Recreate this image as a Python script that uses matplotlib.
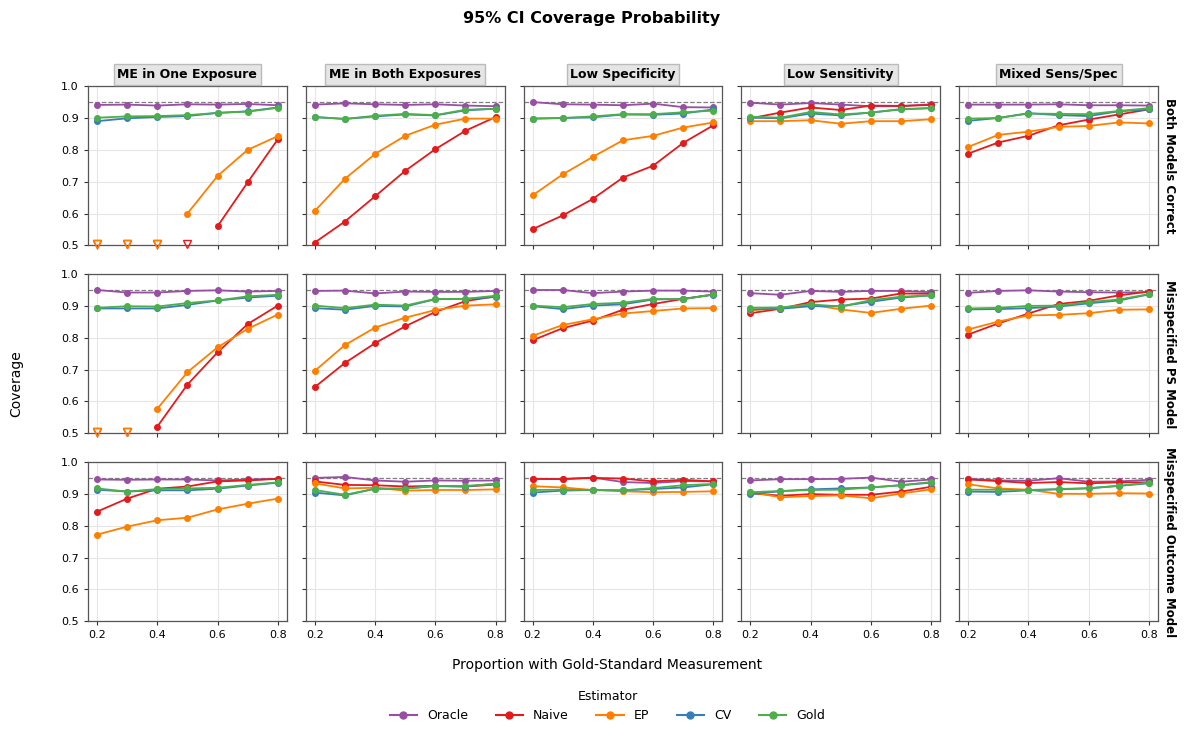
import matplotlib
matplotlib.use("Agg")
import matplotlib.pyplot as plt
from matplotlib.lines import Line2D
import numpy as np

# proportion with gold-standard measurement
props = [0.2, 0.3, 0.4, 0.5, 0.6, 0.7, 0.8]

scenarios = ["ME in One Exposure", "ME in Both Exposures", "Low Specificity",
             "Low Sensitivity", "Mixed Sens/Spec"]
models = ["Both Models Correct", "Misspecified PS Model", "Misspecified Outcome Model"]
estimators = ["Oracle", "Naive", "EP", "CV", "Gold"]
colors = {"Oracle": "#984ea3", "Naive": "#e41a1c", "EP": "#ff7f00",
          "CV": "#377eb8", "Gold": "#4daf4a"}

# None = coverage below the plotted range (drawn as open triangle at the floor)
# --- Both Models Correct ---
oracle_r1 = [
    [.941, .942, .939, .943, .942, .944, .940],
    [.942, .946, .943, .941, .943, .939, .937],
    [.950, .943, .942, .940, .945, .934, .933],
    [.948, .942, .947, .942, .937, .937, .943],
    [.942, .942, .942, .943, .940, .940, .939],
]
naive_r1 = [
    [None, None, None, None, .560, .698, .833],
    [.509, .575, .654, .734, .802, .860, .903],
    [.551, .594, .646, .713, .750, .822, .877],
    [.899, .917, .933, .925, .939, .938, .941],
    [.788, .823, .844, .877, .895, .911, .927],
]
ep_r1 = [
    [None, None, None, .600, .718, .800, .843],
    [.608, .709, .787, .844, .879, .898, .898],
    [.657, .723, .778, .830, .844, .870, .886],
    [.890, .890, .893, .882, .890, .890, .896],
    [.809, .847, .857, .872, .875, .886, .883],
]
cv_r1 = [
    [.890, .899, .903, .906, .916, .921, .933],
    [.903, .897, .905, .911, .908, .924, .929],
    [.898, .900, .902, .911, .910, .914, .927],
    [.901, .899, .914, .908, .917, .927, .931],
    [.891, .900, .915, .909, .906, .921, .927],
]
gold_r1 = [
    [.901, .905, .906, .909, .916, .920, .932],
    [.903, .897, .907, .913, .909, .926, .929],
    [.898, .900, .905, .912, .912, .918, .923],
    [.904, .901, .919, .911, .917, .928, .931],
    [.898, .900, .914, .913, .912, .922, .931],
]

# --- Misspecified PS Model ---
oracle_r2 = [
    [.950, .942, .942, .947, .949, .945, .947],
    [.947, .948, .939, .945, .944, .944, .947],
    [.950, .950, .940, .945, .948, .948, .945],
    [.940, .935, .947, .944, .947, .947, .943],
    [.941, .947, .949, .945, .943, .942, .943],
]
naive_r2 = [
    [None, None, .521, .653, .754, .843, .901],
    [.645, .721, .783, .836, .881, .915, .930],
    [.792, .830, .854, .888, .906, .922, .936],
    [.877, .891, .912, .920, .923, .939, .938],
    [.810, .845, .876, .906, .916, .933, .945],
]
ep_r2 = [
    [None, None, .577, .692, .770, .828, .873],
    [.696, .777, .832, .863, .887, .901, .905],
    [.806, .840, .858, .876, .884, .892, .893],
    [.886, .893, .904, .889, .878, .891, .901],
    [.826, .851, .870, .872, .877, .888, .889],
]
cv_r2 = [
    [.892, .892, .892, .903, .917, .926, .932],
    [.893, .888, .900, .898, .921, .922, .928],
    [.899, .890, .901, .905, .920, .922, .935],
    [.889, .891, .899, .899, .913, .926, .933],
    [.889, .890, .893, .898, .908, .917, .936],
]
gold_r2 = [
    [.894, .899, .898, .909, .917, .930, .935],
    [.901, .893, .904, .901, .922, .922, .932],
    [.901, .896, .906, .910, .922, .921, .936],
    [.894, .895, .905, .898, .918, .929, .933],
    [.892, .894, .900, .901, .912, .920, .937],
]

# --- Misspecified Outcome Model ---
oracle_r3 = [
    [.945, .944, .945, .945, .942, .945, .947],
    [.950, .953, .942, .938, .942, .941, .942],
    [.947, .947, .951, .937, .934, .940, .939],
    [.942, .946, .946, .947, .951, .938, .945],
    [.947, .942, .941, .949, .938, .939, .944],
]
naive_r3 = [
    [.844, .885, .916, .923, .939, .942, .947],
    [.939, .928, .927, .923, .925, .923, .929],
    [.947, .946, .950, .948, .939, .944, .939],
    [.902, .894, .899, .897, .897, .907, .922],
    [.945, .940, .934, .937, .933, .936, .936],
]
ep_r3 = [
    [.772, .797, .817, .825, .851, .869, .885],
    [.933, .917, .919, .910, .912, .912, .914],
    [.924, .920, .912, .908, .905, .906, .908],
    [.906, .889, .893, .895, .886, .901, .914],
    [.930, .917, .913, .900, .900, .902, .901],
]
cv_r3 = [
    [.913, .907, .911, .911, .916, .926, .935],
    [.904, .895, .916, .917, .924, .923, .932],
    [.904, .910, .912, .911, .915, .920, .930],
    [.899, .908, .914, .917, .920, .927, .935],
    [.907, .906, .911, .914, .917, .925, .933],
]
gold_r3 = [
    [.917, .907, .915, .917, .919, .928, .936],
    [.912, .897, .916, .916, .925, .925, .931],
    [.912, .913, .912, .911, .918, .927, .931],
    [.905, .909, .912, .913, .920, .927, .937],
    [.913, .913, .912, .915, .918, .925, .935],
]

rows = [
    {"Oracle": oracle_r1, "Naive": naive_r1, "EP": ep_r1, "CV": cv_r1, "Gold": gold_r1},
    {"Oracle": oracle_r2, "Naive": naive_r2, "EP": ep_r2, "CV": cv_r2, "Gold": gold_r2},
    {"Oracle": oracle_r3, "Naive": naive_r3, "EP": ep_r3, "CV": cv_r3, "Gold": gold_r3},
]

YMIN, YMAX = 0.5, 1.0
nominal = 0.95

fig, axes = plt.subplots(3, 5, figsize=(11.84, 7.30), dpi=100, sharex=True, sharey=True)
fig.subplots_adjust(left=0.0743, right=0.978, top=0.882, bottom=0.149, wspace=0.095, hspace=0.18)

for i, row in enumerate(rows):
    for j in range(5):
        ax = axes[i, j]
        ax.axhline(nominal, color="gray", ls="--", lw=0.9, zorder=1)
        for est in estimators:
            vals = np.array([np.nan if v is None else v for v in row[est][j]])
            ax.plot(props, vals, color=colors[est], marker="o", ms=4, lw=1.3, zorder=3)
            low = np.isnan(vals)
            if low.any():
                ax.plot(np.array(props)[low], np.full(low.sum(), YMIN + 0.005),
                        ls="none", marker="v", ms=6, mfc="none", mec=colors[est],
                        mew=1.0, zorder=4, clip_on=False)
        ax.set_ylim(YMIN, YMAX)
        ax.set_xlim(0.17, 0.83)
        ax.set_yticks(np.arange(0.5, 1.01, 0.1))
        ax.set_xticks([0.2, 0.4, 0.6, 0.8])
        ax.grid(True, color="#e6e6e6", lw=0.8)
        ax.set_axisbelow(True)
        ax.tick_params(labelsize=8, color="#333333", length=3)
        for s in ax.spines.values():
            s.set_color("#555555")
            s.set_linewidth(0.9)
        if i == 0:
            ax.set_title(scenarios[j], fontsize=9, fontweight="bold", pad=6,
                         bbox=dict(facecolor="#e5e5e5", edgecolor="#bbbbbb", boxstyle="square,pad=0.3"))
        if j == 4:
            ax.text(1.06, 0.5, models[i], transform=ax.transAxes, rotation=-90,
                    va="center", ha="center", fontsize=8.5, fontweight="bold")

fig.suptitle("95% CI Coverage Probability", fontsize=11.5, fontweight="bold", y=0.985)
fig.text(0.513, 0.083, "Proportion with Gold-Standard Measurement", ha="center", fontsize=10)
fig.text(0.008, 0.475, "Coverage", rotation=90, va="center", fontsize=10)

handles = [Line2D([0], [0], color=colors[e], marker="o", ms=5, lw=1.5) for e in estimators]
fig.legend(handles, estimators, title="Estimator", loc="lower center", ncol=5,
           bbox_to_anchor=(0.513, -0.005), frameon=False, fontsize=9, title_fontsize=9,
           columnspacing=2.2, handlelength=2.2)

fig.savefig("out.png", dpi=100)
